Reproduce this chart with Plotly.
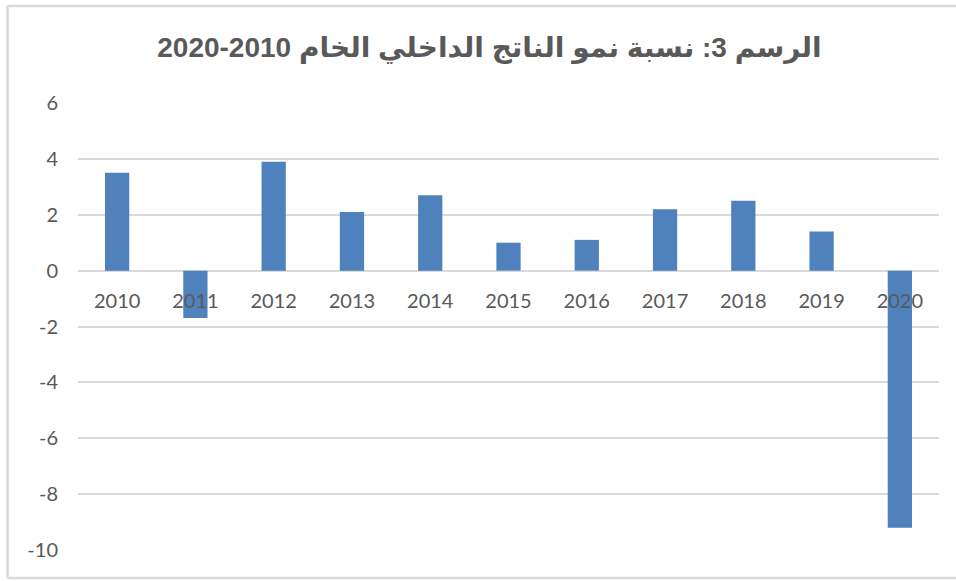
import plotly.graph_objects as go

years = ["2010", "2011", "2012", "2013", "2014", "2015", "2016", "2017", "2018", "2019", "2020"]
growth = [3.5, -1.7, 3.9, 2.1, 2.7, 1.0, 1.1, 2.2, 2.5, 1.4, -9.2]
y_ticks = [-10, -8, -6, -4, -2, 0, 2, 4, 6]
y_tick_labels = ["-10", "-8", "-6", "-4", "-2", "0", "2", "4", "6"]
title_text = "الرسم 3: نسبة نمو الناتج الداخلي الخام 2010-2020"

ymin, ymax = -10, 6
text_color = "#595959"

fig = go.Figure(
    go.Bar(
        x=years,
        y=growth,
        marker=dict(color="#4F81BD", line=dict(width=0)),
        width=0.31,
    )
)

bx0, bx1 = -70.5 / 861, 1 + 30 / 861
by0, by1 = -28 / 447, 1 + 97 / 447
border = dict(color="#D9D9D9", width=2.5)

fig.update_layout(
    width=956,
    height=581,
    paper_bgcolor="white",
    plot_bgcolor="white",
    margin=dict(l=78, r=17, t=103, b=31, autoexpand=False),
    showlegend=False,
    title=dict(
        text="<b>" + title_text + "</b>",
        x=0.512,
        xanchor="center",
        y=1 - 47 / 581,
        yanchor="middle",
        font=dict(family="Liberation Sans, Arial, DejaVu Sans", size=28, color=text_color),
    ),
    xaxis=dict(
        type="category",
        anchor="free",
        position=(0 - ymin) / (ymax - ymin),
        automargin=False,
        showgrid=False,
        showline=False,
        zeroline=False,
        ticks="outside",
        ticklen=12,
        tickcolor="rgba(0,0,0,0)",
        tickfont=dict(family="Lato, Liberation Sans", size=20, color=text_color),
    ),
    yaxis=dict(
        range=[ymin, ymax],
        tickvals=y_ticks,
        ticktext=y_tick_labels,
        automargin=False,
        showgrid=True,
        gridcolor="#D9D9D9",
        gridwidth=1.5,
        zeroline=True,
        zerolinecolor="#D9D9D9",
        zerolinewidth=1.5,
        showline=False,
        ticks="outside",
        ticklen=15,
        tickcolor="rgba(0,0,0,0)",
        tickfont=dict(family="Lato, Liberation Sans", size=20, color=text_color),
    ),
    shapes=[
        dict(type="line", xref="paper", yref="paper", x0=bx0, x1=bx1, y0=by1, y1=by1, line=border),
        dict(type="line", xref="paper", yref="paper", x0=bx0, x1=bx1, y0=by0, y1=by0, line=border),
        dict(type="line", xref="paper", yref="paper", x0=bx0, x1=bx0, y0=by0, y1=by1, line=border),
    ],
)

fig.write_html(
    "out.html",
    config={"displayModeBar": False},
    post_script="document.body.style.margin='0';",
)
